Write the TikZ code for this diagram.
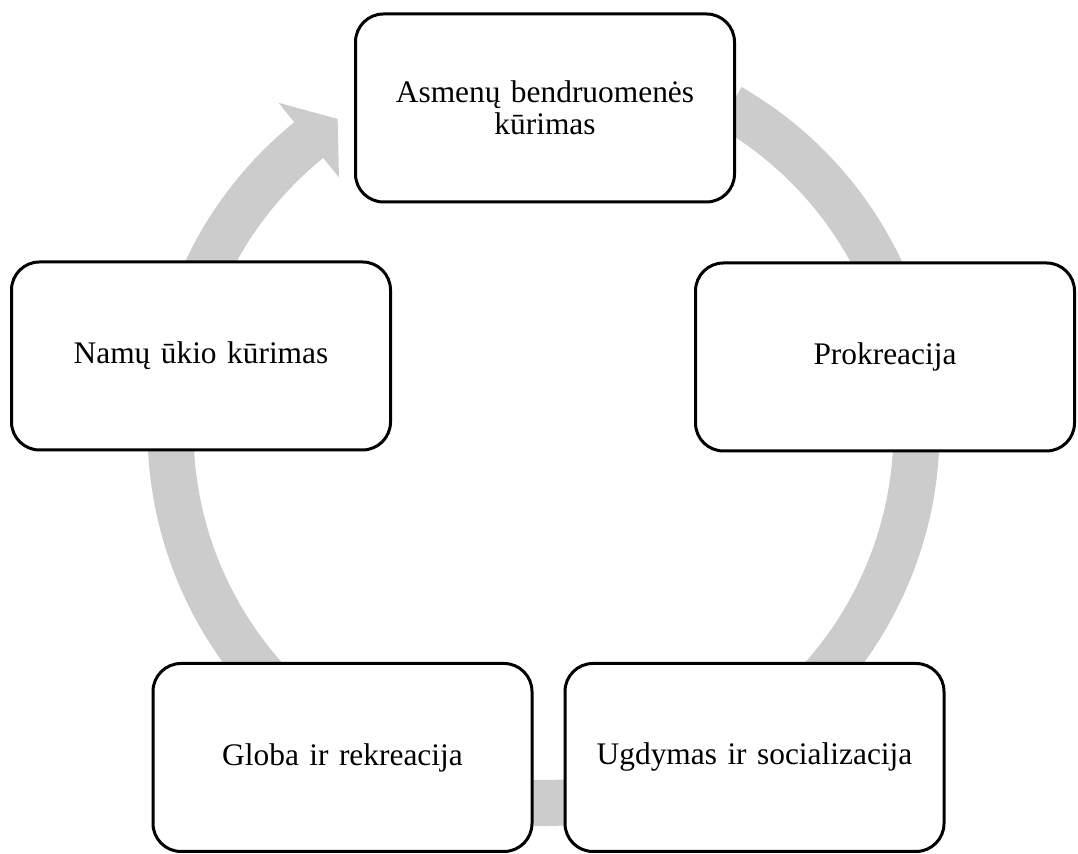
\documentclass[tikz,border=0pt]{standalone}
\usepackage{fontspec}
\setmainfont{Liberation Serif}
\usetikzlibrary{positioning,calc}
\tikzset{stagebox/.style={draw=black, line width=1.5pt, rounded corners=14pt, fill=white,
    minimum width=189.5pt, minimum height=94pt, align=center, text width=180pt,
    font=\fontsize{15.7}{16.2}\selectfont}}
\tikzset{ringfill/.style={fill=black!20, draw=none}}

\begin{document}
\begin{tikzpicture}[x=0.5pt, y=0.5pt]

  \newcommand\Rout{396}
  \newcommand\Rin{350}
  \newcommand\Rmid{373}

  \useasboundingbox (0,0) rectangle (1078,854);
  \coordinate (ctr) at (543.5,424);

  %% the circular arrow behind the boxes
  \fill[ringfill] ($(ctr)+(60:\Rout)$) arc[start angle=60, end angle=-231, radius=\Rout]
    -- ($(ctr)+(-231:421)$) -- ($(ctr)+(-236.5:\Rmid)$) -- ($(ctr)+(-231:325)$)
    -- ($(ctr)+(-231:\Rin)$) arc[start angle=-231, end angle=60, radius=\Rin] -- cycle;

  \node[stagebox] (asmenu) at (545,746) {Asmenų bendruomenės\\kūrimas};
  \node[stagebox] (prokr) at (885,497) {Prokreacija};
  \node[stagebox] (ugdym) at (754.5,96.5) {Ugdymas ir socializacija};
  \node[stagebox] (globa) at (342.5,96.5) {Globa ir rekreacija};
  \node[stagebox] (namu) at (201,498) {Namų ūkio kūrimas};

\end{tikzpicture}
\end{document}
